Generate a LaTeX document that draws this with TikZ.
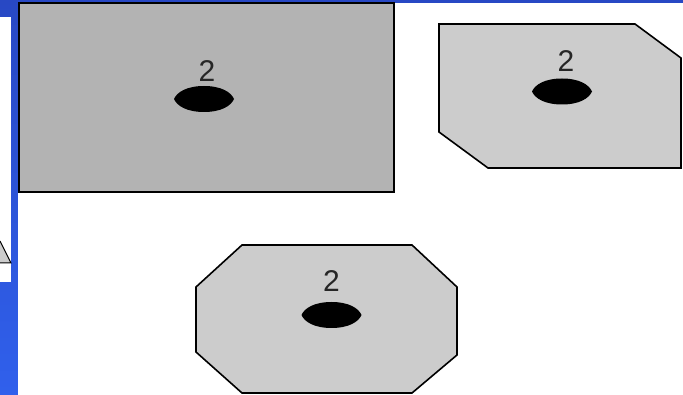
\documentclass[tikz,border=0pt]{standalone}
\usepackage{fontspec}
\setsansfont{Liberation Sans}
\usetikzlibrary{positioning}
\definecolor{slideblue}{RGB}{48,96,236}
\definecolor{slidebluetop}{RGB}{40,72,196}
\definecolor{darkpanel}{RGB}{179,179,179}
\definecolor{lightpanel}{RGB}{204,204,204}
\tikzset{
    panelbox/.style={draw=black, fill=#1, line width=1.6pt, line join=miter},
    numlabel/.style={font=\sffamily\fontsize{30}{30}\selectfont, inner sep=0pt, text=black!85},
    lensmark/.pic={\fill[black] (-30,0) .. controls (-27,-7) and (-17,-13) .. (0,-13) .. controls (17,-13) and (27,-7) .. (30,0)
        .. controls (27,7) and (17,13) .. (0,13) .. controls (-17,13) and (-27,7) .. (-30,0) -- cycle;}
}

\begin{document}
\begin{tikzpicture}[x=1pt, y=-1pt]
\useasboundingbox (0,0) rectangle (683,395);

% slide frame
\shade[top color=slidebluetop, bottom color=slideblue] (0,0) rectangle (683,395);
\fill[white] (18,3) rectangle (683,395);
\fill[white] (0,17) rectangle (11,282);
\draw[fill=lightpanel, line width=1pt] (0,241) -- (11,263) -- (0,263);

% panels
\draw[panelbox=darkpanel, line width=2pt] (19,3) rectangle (394,192);
\draw[panelbox=lightpanel] (439,24) -- (635,24) -- (681,58) -- (681,168) -- (488,168) -- (439,132) -- cycle;
\draw[panelbox=lightpanel] (242,245) -- (412,245) -- (457,287) -- (457,355) -- (412,393) -- (242,393) -- (196,352) -- (196,287) -- cycle;

% marks
\coordinate (lensA) at (204,99);
\coordinate (lensB) at (562,91.5);
\coordinate (lensC) at (331.5,315);
\pic at (lensA) {lensmark};
\pic at (lensB) {lensmark};
\pic at (lensC) {lensmark};
\node[numlabel, above=17pt of lensA, xshift=3pt] (numA) {2};
\node[numlabel, above=20pt of lensB, xshift=4pt] (numB) {2};
\node[numlabel, above=23pt of lensC] (numC) {2};

\end{tikzpicture}
\end{document}
